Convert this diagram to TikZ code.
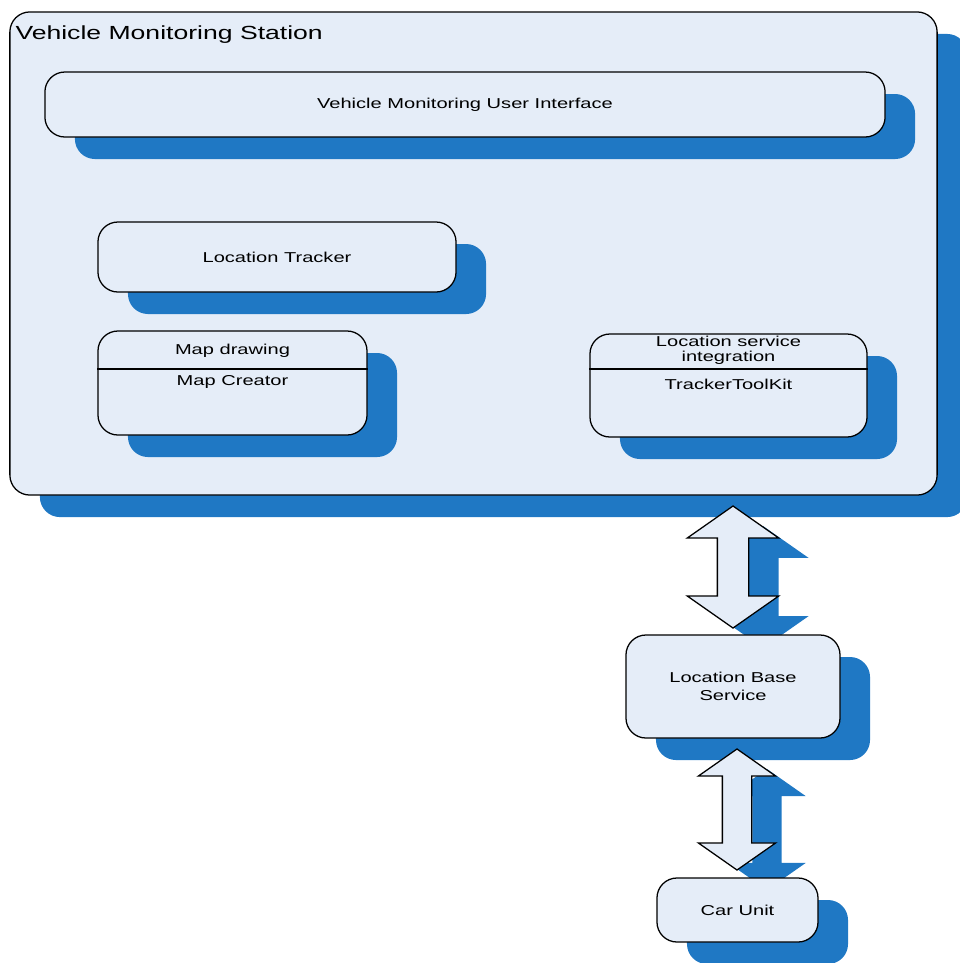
\documentclass[tikz,border=0pt]{standalone}
\usepackage{fontspec}
\setmainfont{Liberation Sans}
\newfontfamily\diafont[FakeStretch=1.4]{Liberation Sans}
\usetikzlibrary{positioning, shapes.arrows, shadows, calc}
\definecolor{boxfill}{HTML}{E5EDF8}
\definecolor{shadowblue}{HTML}{1F78C4}
\tikzset{
	box/.style={draw, line width=0.9pt, fill=boxfill, rounded corners=0.5cm, inner sep=0pt,
		drop shadow={shadow xshift=0.75cm, shadow yshift=-0.55cm, fill=shadowblue, opacity=1}}, % every component box
	boxtext/.style={font=\diafont\fontsize{10.2}{12.8}\selectfont, align=center, inner sep=0pt}, % text in the boxes
	titletext/.style={font=\diafont\fontsize{13.5}{16}\selectfont, inner sep=0pt}, % title of the station
	divider/.style={line width=1.6pt}, % line under the stereotype
	dblarrow/.style={shape=double arrow, shape border rotate=90, draw, line width=0.9pt, fill=boxfill,
		drop shadow={shadow xshift=0.75cm, shadow yshift=-0.5cm, fill=shadowblue, opacity=1}}, % links between parts
}
\begin{document}
\begin{tikzpicture}[x=0.025cm, y=-0.025cm]
	\useasboundingbox (0,0) rectangle (960,963);

	\node[box, minimum width=23.175cm, minimum height=12.075cm] (vms) at (473.5,253.5) {};
	\node[titletext, anchor=west] (vmstitle) at ([xshift=0.15cm, yshift=-0.575cm]vms.north west) {Vehicle Monitoring Station};

	\node[box, minimum width=21cm, minimum height=1.625cm] (ui) at (465,104.5) {};
	\node[boxtext] (uitext) at (ui) {Vehicle Monitoring User Interface};

	\node[box, minimum width=8.95cm, minimum height=1.75cm] (lt) at (277,257) {};
	\node[boxtext] (lttext) at (lt) {Location Tracker};

	\node[box, minimum width=6.725cm, minimum height=2.6cm] (mc) at (232.5,383) {};
	\draw[divider] ([yshift=-0.975cm]mc.north west) -- ([yshift=-0.975cm]mc.north east);
	\node[boxtext] (mcstereo) at ([yshift=-0.5cm]mc.north) {Map drawing};
	\node[boxtext] (mcname) at ([yshift=-1.3cm]mc.north) {Map Creator};

	\node[box, minimum width=6.925cm, minimum height=2.575cm] (lsi) at (728.5,385.5) {};
	\draw[divider] ([yshift=-0.9cm]lsi.north west) -- ([yshift=-0.9cm]lsi.north east);
	\node[boxtext, font=\diafont\fontsize{10.2}{10.5}\selectfont] (lsistereo) at ([yshift=-0.42cm]lsi.north) {Location service\\integration};
	\node[boxtext] (lsiname) at ([yshift=-1.27cm]lsi.north) {TrackerToolKit};

	\node[dblarrow, inner sep=0.375cm, minimum height=3.05cm, double arrow head extend=0.75cm, double arrow tip angle=110] (link1) at (733,567) {};

	\node[box, minimum width=5.35cm, minimum height=2.575cm] (lbs) at (733,686.5) {};
	\node[boxtext] (lbstext) at (lbs) {Location Base\\Service};

	\node[dblarrow, inner sep=0.35cm, minimum height=3.025cm, double arrow head extend=0.6cm, double arrow tip angle=110] (link2) at (737,809.5) {};

	\node[box, minimum width=4.025cm, minimum height=1.6cm] (cu) at (737.5,910) {};
	\node[boxtext] (cutext) at (cu) {Car Unit};
\end{tikzpicture}
\end{document}
